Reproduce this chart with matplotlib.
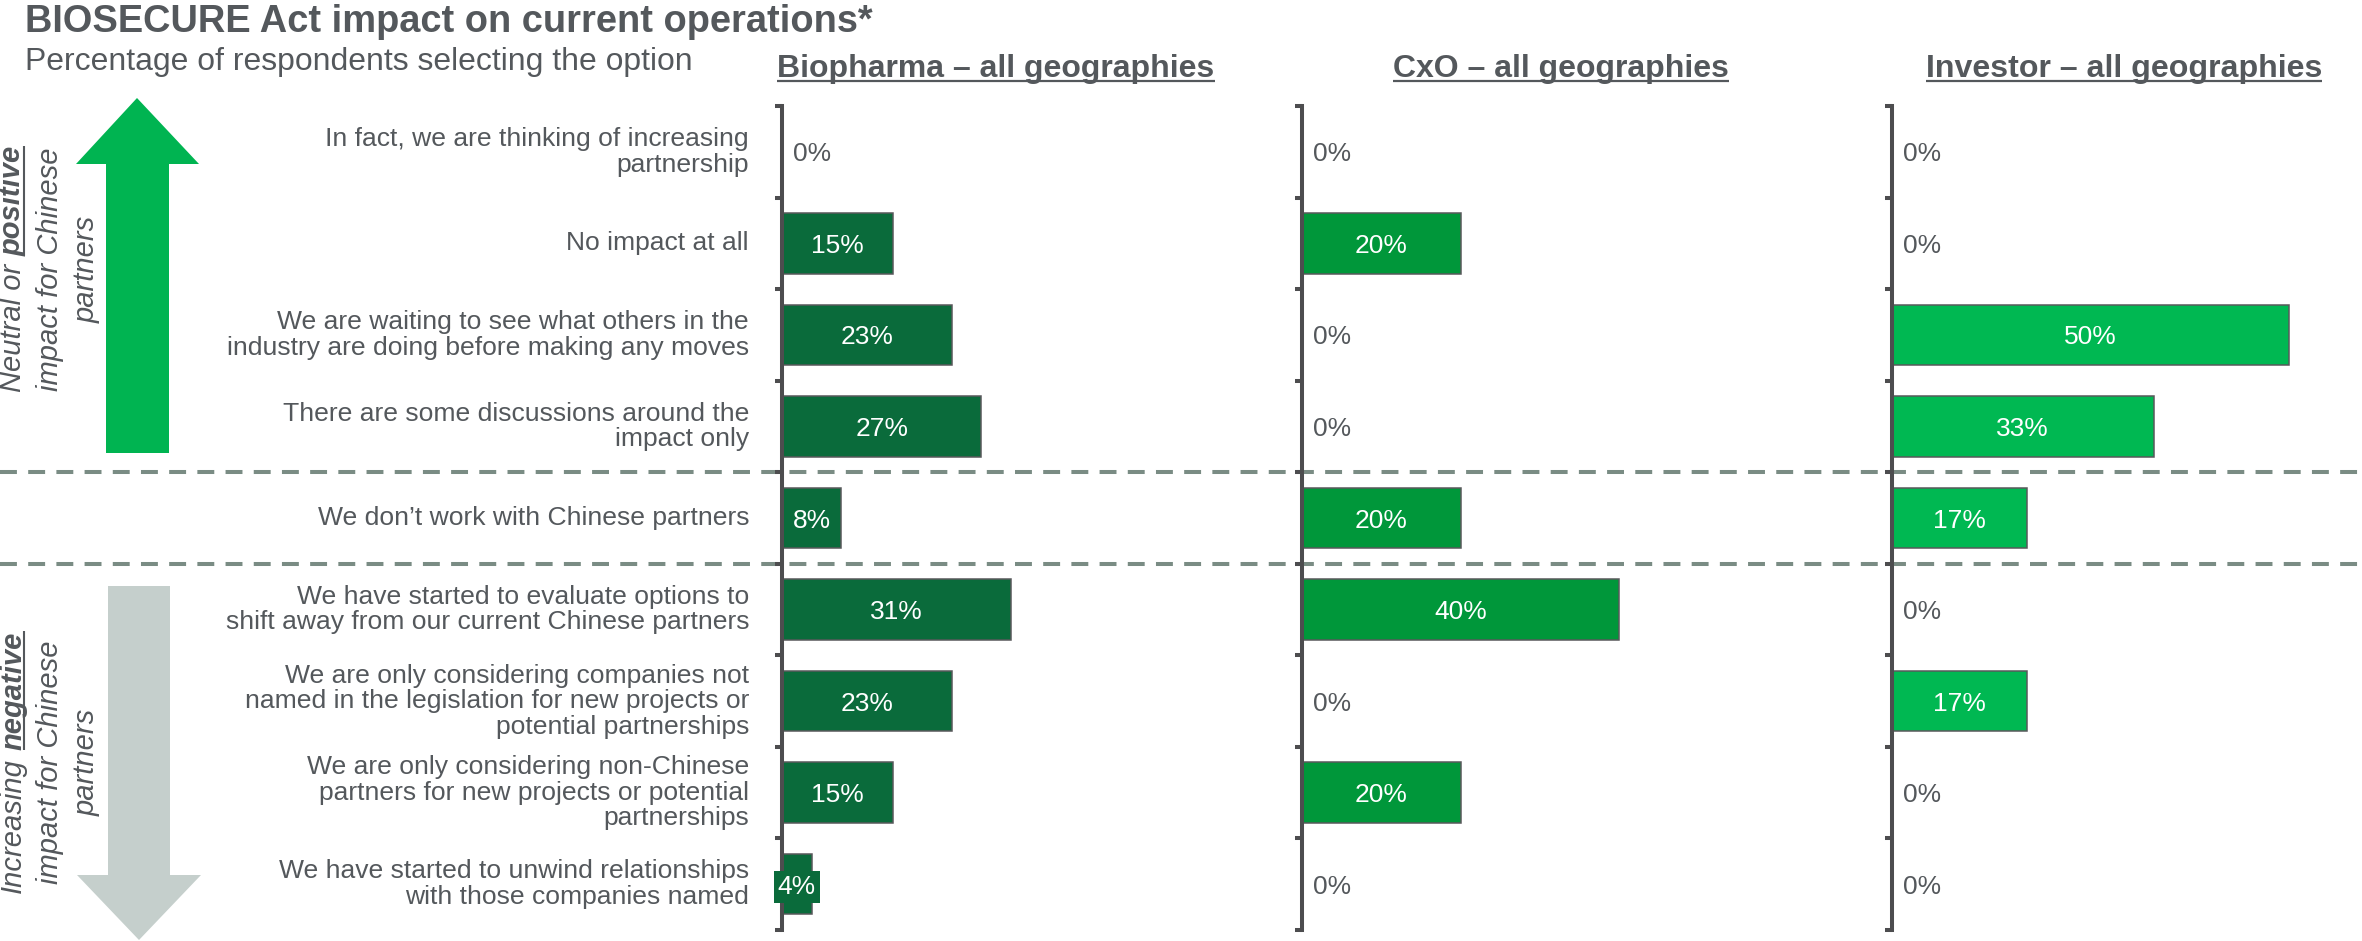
import numpy as np
import matplotlib
matplotlib.use("Agg")
import matplotlib.pyplot as plt
from matplotlib.patches import Polygon

plt.rcParams['font.family'] = ['Liberation Sans', 'DejaVu Sans']

# ---- data ----
categories = [
    "In fact, we are thinking of increasing\npartnership",
    "No impact at all",
    "We are waiting to see what others in the\nindustry are doing before making any moves",
    "There are some discussions around the\nimpact only",
    "We don\u2019t work with Chinese partners",
    "We have started to evaluate options to\nshift away from our current Chinese partners",
    "We are only considering companies not\nnamed in the legislation for new projects or\npotential partnerships",
    "We are only considering non-Chinese\npartners for new projects or potential\npartnerships",
    "We have started to unwind relationships\nwith those companies named",
]
biopharma = [0, 15, 23, 27, 8, 31, 23, 15, 4]
cxo = [0, 20, 0, 0, 20, 40, 0, 20, 0]
investor = [0, 0, 50, 33, 17, 0, 17, 0, 0]
panel_titles = ["Biopharma \u2013 all geographies", "CxO \u2013 all geographies",
                "Investor \u2013 all geographies"]
n_positive = 4   # rows with neutral / positive impact
n_neutral = 1    # "don't work with Chinese partners"

title = "BIOSECURE Act impact on current operations*"
subtitle = "Percentage of respondents selecting the option"

# ---- style ----
GREY = "#54585c"
AXIS = "#4d4d4f"
panel_colors = ["#0a6b3b", "#00973a", "#00b852"]
W, H = 2362, 941

fig = plt.figure(figsize=(W / 100, H / 100), dpi=100)
ov = fig.add_axes([0, 0, 1, 1], zorder=-1)
ov.set_xlim(0, W)
ov.set_ylim(H, 0)
ov.axis('off')
renderer = fig.canvas.get_renderer()


def text_w(s, **kw):
    t = ov.text(0, 0, s, **kw)
    w = t.get_window_extent(renderer).width
    t.remove()
    return w


def fit_size(s, target, **kw):
    # font size that makes s about target pixels wide
    return 20 * target / text_w(s, fontsize=20, **kw)


# title + subtitle
ov.text(25, 32, title, fontsize=fit_size(title, 846, fontweight='bold'),
        fontweight='bold', color=GREY, va='baseline')
ov.text(25, 70, subtitle, fontsize=fit_size(subtitle, 665), color=GREY, va='baseline')

# panels
panel_left = [782, 1302, 1892]
panel_width = [420, 500, 460]
px_per_pct = [7.38, 7.93, 7.93]
header_x = [996, 1561, 2124]
header_w = [437, 335, 395]
top, bottom = 106, 930
rows = np.arange(len(categories))
series = [biopharma, cxo, investor]
label_fs = fit_size("industry are doing before making any moves", 520)
value_fs = 19

for k in range(3):
    left, width, col = panel_left[k], panel_width[k], panel_colors[k]
    ax = fig.add_axes([left / W, (H - bottom) / H, width / W, (bottom - top) / H])
    ax.set_facecolor('none')
    ax.set_xlim(0, width / px_per_pct[k])
    ax.set_ylim(len(categories) - 0.5, -0.5)
    vals = series[k]
    ax.barh(rows, vals, height=0.66, color=col, edgecolor='#58595b',
            linewidth=1.1, zorder=2)
    for r, v in zip(rows, vals):
        if v > 0:
            ax.text(v / 2, r, f"{v}%", ha='center', va='center_baseline',
                    color='white', fontsize=value_fs, zorder=4,
                    bbox=dict(boxstyle='square,pad=0.15', fc=col, ec='none'))
        else:
            ax.annotate("0%", xy=(0, r), xytext=(11, 0), textcoords='offset pixels',
                        ha='left', va='center_baseline', color=GREY, fontsize=value_fs)
    for s in ['top', 'right', 'bottom']:
        ax.spines[s].set_visible(False)
    ax.spines['left'].set_linewidth(2.9)
    ax.spines['left'].set_color(AXIS)
    ax.set_xticks([])
    ax.set_yticks(np.arange(len(categories) + 1) - 0.5)
    ax.set_yticklabels([])
    ax.tick_params(axis='y', length=5, width=2.9, color=AXIS, direction='out')

    if k == 0:
        for r, cat in zip(rows, categories):
            ax.annotate(cat, xy=(0, r), xycoords=('axes fraction', 'data'),
                        xytext=(-33, 0), textcoords='offset pixels', ha='right',
                        va='center', fontsize=label_fs, color=GREY, linespacing=1.08,
                        multialignment='right')
        for b in [n_positive - 0.5, n_positive + n_neutral - 0.5]:
            ax.axhline(b, xmin=-left / width, xmax=(W - left) / width, clip_on=False,
                       color='#7a8c84', lw=2.9, dashes=(4.2, 2.8), zorder=1)

    # underlined header
    hfs = fit_size(panel_titles[k], header_w[k], fontweight='bold')
    hw = text_w(panel_titles[k], fontsize=hfs, fontweight='bold')
    ov.text(header_x[k], 77, panel_titles[k], fontsize=hfs, fontweight='bold',
            color=GREY, ha='center', va='baseline')
    ov.plot([header_x[k] - hw / 2, header_x[k] + hw / 2], [81, 81], color=GREY,
            lw=1.6, solid_capstyle='butt')

# side arrows
ov.add_patch(Polygon([(106, 453), (106, 164), (76, 164), (137, 98), (199, 164),
                      (169, 164), (169, 453)], closed=True, fc='#00b451', ec='none'))
ov.add_patch(Polygon([(108, 586), (108, 875), (77, 875), (139, 940), (201, 875),
                      (170, 875), (170, 586)], closed=True, fc='#c5cfcc', ec='none'))

ARROW_FS = 21


def rotated_mixed(bx, yc, parts, fs=ARROW_FS):
    space = text_w("a a", fontsize=fs, style='italic') - text_w("aa", fontsize=fs, style='italic')
    widths = []
    for s, wt, ul in parts:
        w = text_w(s.rstrip(), fontsize=fs, style='italic', fontweight=wt)
        if s.endswith(' '):
            w += space
        widths.append(w)
    y = yc + sum(widths) / 2
    for (s, wt, ul), w in zip(parts, widths):
        ov.text(bx, y, s.rstrip(), rotation=90, rotation_mode='anchor', ha='left',
                va='baseline', fontsize=fs, style='italic', fontweight=wt, color=GREY)
        if ul:
            ov.plot([bx + 3, bx + 3], [y, y - w], color=GREY, lw=1.5,
                    solid_capstyle='butt')
        y -= w


def rotated_line(bx, yc, s, fs=ARROW_FS):
    ov.text(bx, yc, s, rotation=90, rotation_mode='anchor', ha='center',
            va='baseline', fontsize=fs, style='italic', color=GREY)


line_x = [21, 58, 95]
rotated_mixed(line_x[0], 269, [("Neutral or ", 'normal', False), ("positive", 'bold', True)])
rotated_line(line_x[1], 269, "impact for Chinese")
rotated_line(line_x[2], 269, "partners")
rotated_mixed(line_x[0], 762, [("Increasing ", 'normal', False), ("negative", 'bold', True)])
rotated_line(line_x[1], 762, "impact for Chinese")
rotated_line(line_x[2], 762, "partners")

fig.savefig("out.png", dpi=100)
